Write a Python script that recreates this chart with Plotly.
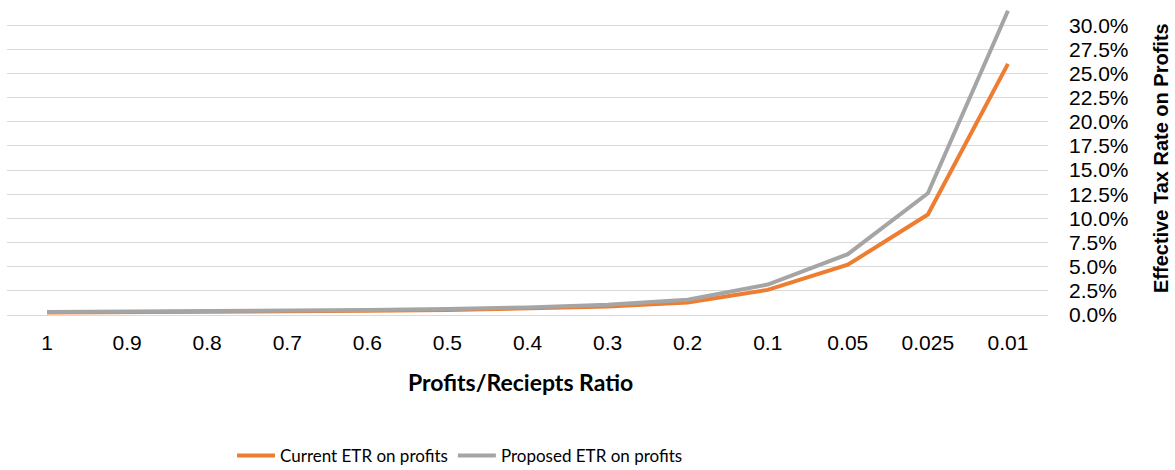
import plotly.graph_objects as go

categories = ["1", "0.9", "0.8", "0.7", "0.6", "0.5", "0.4", "0.3", "0.2", "0.1", "0.05", "0.025", "0.01"]
current_etr = [0.0026, 0.00289, 0.00325, 0.00371, 0.00433, 0.0052, 0.0065, 0.00867, 0.013, 0.026, 0.052, 0.104, 0.26]
proposed_etr = [0.00315, 0.0035, 0.00394, 0.0045, 0.00525, 0.0063, 0.00788, 0.0105, 0.01575, 0.0315, 0.063, 0.126, 0.315]
y_ticks = [i * 0.025 for i in range(13)]

# plot area in pixels: x 7..1048, y 2..315
PX0, PX1, PY0, PY1 = 7, 1048, 2, 315
def px(x):
    return (x - PX0) / (PX1 - PX0)
def py(y):
    return (PY1 - y) / (PY1 - PY0)

fig = go.Figure()
fig.add_trace(go.Scatter(x=categories, y=current_etr, mode="lines", name="Current ETR on profits",
                         line=dict(color="#ED7D31", width=4)))
fig.add_trace(go.Scatter(x=categories, y=proposed_etr, mode="lines", name="Proposed ETR on profits",
                         line=dict(color="#A5A5A5", width=4)))

fig.update_layout(
    width=1175, height=470,
    margin=dict(l=7, r=127, t=2, b=155),
    plot_bgcolor="white", paper_bgcolor="white",
    showlegend=True,
    legend=dict(orientation="h", xref="container", yref="container", x=0.3915, xanchor="center",
                y=0.03, yanchor="middle",
                font=dict(family="Lato, Open Sans, sans-serif", size=17, color="#000"),
                itemwidth=38, tracegroupgap=0),
    xaxis=dict(type="category", range=[-0.5, 12.5], showgrid=False, showline=True,
               linecolor="#D9D9D9", linewidth=1, automargin=False,
               ticks="", tickfont=dict(family="Liberation Sans, Arial", size=21, color="#000"),
               ticklabelstandoff=9, zeroline=False),
    yaxis=dict(side="right", range=[0, 0.324], tickvals=y_ticks, tickformat=".1%", automargin=False,
               showgrid=True, gridcolor="#D9D9D9", gridwidth=1, zeroline=False, showline=False,
               ticks="", tickfont=dict(family="Liberation Sans, Arial", size=21, color="#000"),
               ticklabelstandoff=20),
    annotations=[
        dict(text="<b>Profits/Reciepts Ratio</b>", xref="paper", yref="paper",
             x=px(520), y=py(382),
             xanchor="center", yanchor="middle", showarrow=False,
             font=dict(family="Lato, Open Sans, sans-serif", size=23, color="#000")),
        dict(text="<b>Effective Tax Rate on Profits</b>", xref="paper", yref="paper",
             x=px(1161), y=py(158), xanchor="center", yanchor="middle", textangle=-90,
             showarrow=False,
             font=dict(family="Liberation Sans, Arial", size=20, color="#000")),
    ],
)

fig.write_html("out.html", config={"displayModeBar": False},
               post_script="document.body.style.margin='0';")
